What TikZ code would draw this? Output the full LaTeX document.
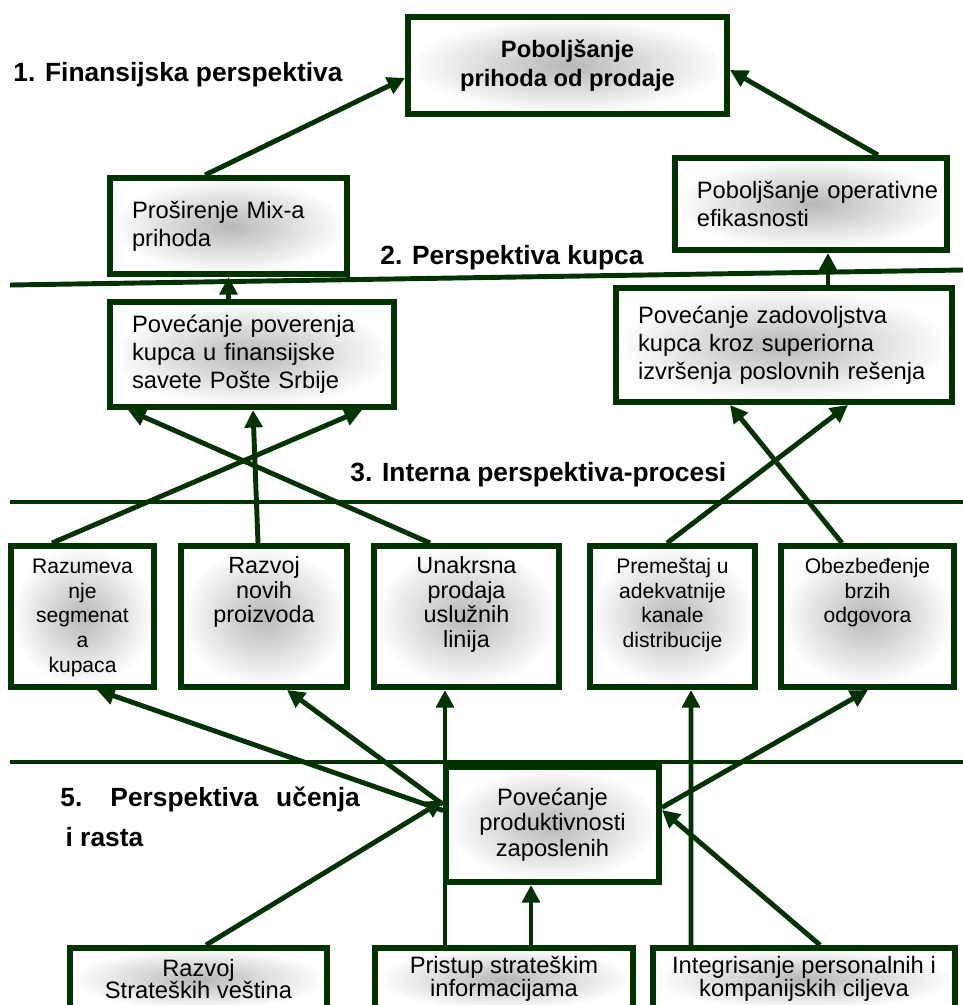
\documentclass[tikz,border=0pt]{standalone}
\usepackage{fontspec}
\setmainfont{Liberation Sans}
\usetikzlibrary{calc}
\usetikzlibrary{arrows.meta}
\definecolor{tamnozelena}{RGB}{0,51,0}
\newcommand{\proc}[2]{\parbox[c][2.82cm][t]{#1}{\centering\vspace*{6pt}\strut #2}}

\begin{document}
\begin{tikzpicture}[x=0.02cm, y=-0.02cm,
  okvir/.style={draw=tamnozelena, line width=3.4pt, inner color=black!28, outer color=white},
  levi/.style={okvir, align=left, inner xsep=0.44cm, font=\fontsize{13.5}{16}\selectfont},
  srednji/.style={okvir, align=center, inner sep=0pt, font=\fontsize{13.5}{14.5}\selectfont},
  proces/.style={okvir, inner sep=0pt, font=\fontsize{12}{14}\selectfont},
  naslov/.style={font=\fontsize{15}{18}\selectfont\bfseries, inner sep=0pt},
  strela/.style={draw=tamnozelena, line width=2.8pt, -{Triangle[length=10pt,width=10pt]}},
  linija/.style={draw=tamnozelena, line width=2.8pt}]
\useasboundingbox (0,0) rectangle (963,1005);
\clip (0,0) rectangle (963,1005);
\draw[linija] (10,285) -- (963,270);
\foreach \y in {502,762} \draw[linija] (10,\y) -- (963,\y);
\node[naslov, anchor=west] (fin) at (13,75) {1. Finansijska perspektiva};
\node[naslov, anchor=west] (kupac) at (380,258) {2. Perspektiva kupca};
\node[naslov, anchor=west] (interna) at (350,475) {3. Interna perspektiva-procesi};
\node[naslov, anchor=north west, align=left] (ucenje) at (60,786) {5.\hspace{16pt}Perspektiva\hspace{6pt} učenja\\[5pt]\hspace{3pt}i rasta};
\node[srednji, minimum width=6.38cm, minimum height=1.94cm, font=\fontsize{13.5}{16.5}\selectfont\bfseries] (prihod) at (567.5,65.5) {Poboljšanje\\prihoda od prodaje};
\node[levi, text width=3.86cm, minimum height=1.92cm] (mix) at (228.5,226) {Proširenje Mix-a\\prihoda};
\node[levi, inner xsep=0.26cm, text width=4.92cm, minimum height=1.84cm] (efik) at (811,204) {\mbox{\hspace*{5pt}Poboljšanje operativne}\\\mbox{\hspace*{5pt}efikasnosti}};
\node[levi, text width=4.80cm, minimum height=2.1cm] (pover) at (252,354.5) {Povećanje poverenja\\kupca u finansijske\\savete Pošte Srbije};
\node[levi, text width=5.84cm, minimum height=2.28cm] (zadov) at (784,345) {Povećanje zadovoljstva\\kupca kroz superiorna\\izvršenja poslovnih rešenja};
\node[proces] (segm) at (82.5,616.5) {\proc{2.86cm}{Razumeva\\nje\\segmenat\\a\\kupaca}};
\node[proces, font=\fontsize{13.3}{14}\selectfont] (novi) at (264,616.5) {\proc{3.32cm}{Razvoj\\novih\\proizvoda}};
\node[proces, font=\fontsize{13.3}{14}\selectfont] (unakr) at (466.5,616.5) {\proc{3.7cm}{Unakrsna\\prodaja\\uslužnih\\linija}};
\node[proces] (premest) at (672.5,616.5) {\proc{3.3cm}{Premeštaj u\\adekvatnije\\kanale\\distribucije}};
\node[proces] (brzi) at (867.5,616.5) {\proc{3.46cm}{Obezbeđenje\\brzih\\odgovora}};
\node[srednji, minimum width=4.26cm, minimum height=2.3cm] (produkt) at (552.5,824.5) {Povećanje\\produktivnosti\\zaposlenih};
\node[srednji, minimum width=5.14cm, minimum height=1.24cm, font=\fontsize{13.5}{13}\selectfont] (vest) at (198.5,979) {Razvoj\\Strateških veština};
\node[srednji, minimum width=5.16cm, minimum height=1.24cm, font=\fontsize{13.5}{13}\selectfont] (info) at (504,979) {Pristup strateškim\\informacijama};
\node[srednji, minimum width=6.04cm, minimum height=1.24cm, font=\fontsize{13.5}{13}\selectfont] (cilj) at (804,979) {Integrisanje personalnih i\\kompanijskih ciljeva};
\draw[strela] ($(mix.north)+(-23.5,0)$) -- ($(prihod.west)+(0,12.5)$);
\draw[strela] ($(efik.north)+(67,0)$) -- ($(prihod.east)+(0,4.5)$);
\draw[strela] (pover.north -| mix.south) -- (mix.south);
\draw[strela] ($(zadov.north)+(44,0)$) -- ($(efik.south)+(17,0)$);
\draw[strela] ($(segm.north)+(-30.5,0)$) -- ($(pover.south)+(110,0)$);
\draw[strela] ($(novi.north)+(-6,0)$) -- ($(pover.south)+(1,0)$);
\draw[strela] ($(unakr.north)+(-36.5,0)$) -- ($(pover.south)+(-124,0)$);
\draw[strela] ($(premest.north)+(-5.5,0)$) -- ($(zadov.south)+(64,0)$);
\draw[strela] ($(brzi.north)+(-25.5,0)$) -- ($(zadov.south)+(-54,0)$);
\draw[strela] ($(produkt.west)+(0,-14)$) -- ($(segm.south)+(14.5,0)$);
\draw[strela] ($(produkt.west)+(0,-20)$) -- ($(novi.south)+(23,0)$);
\draw[strela] ($(vest.north)+(7.5,0)$) -- ($(produkt.west)+(0,-24)$);
\draw[strela] ($(info.north)+(-59,0)$) -- ($(unakr.south)+(-21.5,0)$);
\draw[strela] ($(info.north)+(27,0)$) -- ($(produkt.south)+(-21.5,0)$);
\draw[strela] ($(cilj.north)+(-113,0)$) -- ($(premest.south)+(18.5,0)$);
\draw[strela] ($(cilj.north)+(16,0)$) -- ($(produkt.east)+(0,-14.5)$);
\draw[strela] ($(produkt.east)+(0,-17)$) -- ($(brzi.south)+(0.5,0)$);
\end{tikzpicture}
\end{document}
